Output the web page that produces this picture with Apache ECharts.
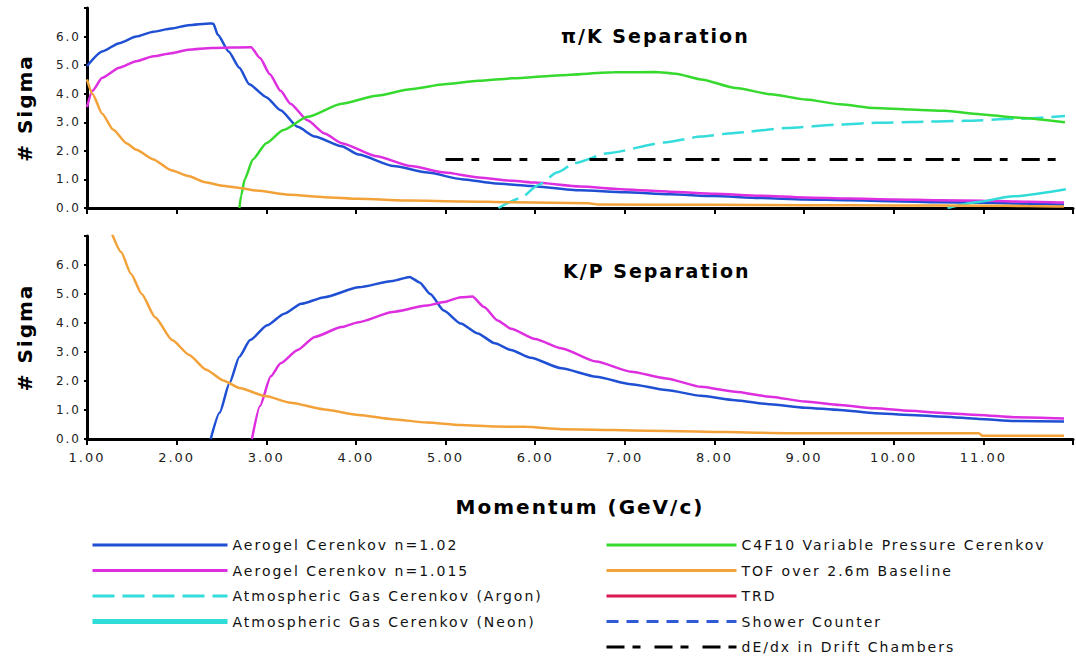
<!DOCTYPE html>
<html>
<head>
<meta charset="utf-8">
<script src="https://cdn.jsdelivr.net/npm/echarts@6/dist/echarts.min.js"></script>
<style>
  html, body { margin: 0; padding: 0; background: #fff; }
  #chart { width: 1076px; height: 663px; }
  /* the original lettering is set wide */
  #chart svg text { letter-spacing: 2px; }
</style>
</head>
<body>
<div id="chart"></div>
<script>
// momentum (GeV/c) vs separation (# sigma)
const momentumRange = [1, 12];
const sigmaRange = [0, 7];

// pi/K panel
const aerogel102PiK = [[1.0,4.97],[1.17,5.48],[1.36,5.77],[1.55,6.0],[1.74,6.17],[1.94,6.28],[2.13,6.4],[2.37,6.46],[2.41,6.45],[2.46,6.06],[2.58,5.48],[2.70,4.91],[2.81,4.33],[3.0,3.88],[3.16,3.42],[3.35,2.84],[3.54,2.5],[3.84,2.16],[4.03,1.87],[4.42,1.47],[4.8,1.24],[5.18,1.01],[5.56,0.86],[5.9,0.78],[6.5,0.62],[7.0,0.55],[7.5,0.48],[8.0,0.42],[8.5,0.35],[9.0,0.3],[9.5,0.27],[10.0,0.24],[10.5,0.2],[11.0,0.18],[11.5,0.15],[11.9,0.12]];
const aerogel1015PiK = [[1.0,3.53],[1.06,4.1],[1.17,4.56],[1.36,4.91],[1.55,5.14],[1.74,5.31],[1.94,5.42],[2.13,5.54],[2.39,5.6],[2.83,5.63],[2.93,5.25],[3.04,4.68],[3.16,4.1],[3.27,3.65],[3.46,3.07],[3.65,2.61],[3.84,2.27],[4.23,1.81],[4.61,1.47],[4.99,1.24],[5.37,1.07],[5.75,0.95],[6.0,0.89],[6.5,0.75],[7.0,0.65],[7.5,0.57],[8.0,0.5],[8.5,0.43],[9.0,0.37],[9.5,0.33],[10.0,0.3],[10.5,0.27],[11.0,0.25],[11.5,0.22],[11.9,0.19]];
const argonPiK = [[5.59,0.0],[5.84,0.35],[6.03,0.8],[6.25,1.25],[6.44,1.57],[6.81,1.92],[7.44,2.29],[7.85,2.5],[8.2,2.62],[8.8,2.8],[9.4,2.92],[9.8,2.98],[10.2,3.01],[10.8,3.05],[11.35,3.12],[11.91,3.22]];
const neonPiK = [[10.6,0.0],[10.96,0.22],[11.3,0.4],[11.92,0.66]];
const c4f10PiK = [[2.70,0.0],[2.72,0.44],[2.76,1.01],[2.85,1.7],[3.0,2.27],[3.19,2.73],[3.46,3.19],[3.84,3.65],[4.23,3.93],[4.61,4.16],[4.99,4.33],[5.37,4.45],[5.75,4.54],[6.29,4.65],[6.88,4.75],[7.34,4.76],[7.57,4.7],[7.85,4.5],[8.24,4.2],[8.63,3.98],[9.02,3.8],[9.4,3.63],[9.79,3.5],[10.18,3.45],[10.57,3.4],[10.96,3.28],[11.35,3.17],[11.91,3.0]];
const tofPiK = [[1.0,4.5],[1.06,4.0],[1.17,3.3],[1.29,2.75],[1.44,2.27],[1.55,2.04],[1.74,1.7],[1.94,1.32],[2.13,1.12],[2.32,0.9],[2.51,0.78],[2.7,0.7],[2.89,0.61],[3.27,0.46],[3.65,0.38],[4.03,0.32],[4.61,0.26],[5.18,0.23],[5.75,0.2],[6.6,0.17],[6.7,0.12],[8.0,0.11],[9.0,0.1],[10.0,0.09],[11.0,0.08],[11.5,0.07],[11.9,0.05]];
const trdPiK = [];
const showerPiK = [];
const dedxPiK = [[5.0,1.7],[11.9,1.7]];

// K/P panel
const aerogel102KP = [[2.38,0.0],[2.48,0.91],[2.59,1.93],[2.7,2.84],[2.82,3.41],[3.01,3.92],[3.2,4.32],[3.39,4.66],[3.65,4.89],[4.03,5.23],[4.41,5.45],[4.6,5.59],[4.71,5.4],[4.83,5.0],[4.98,4.43],[5.17,3.98],[5.36,3.64],[5.55,3.3],[5.73,3.07],[5.95,2.8],[6.29,2.44],[6.68,2.15],[7.07,1.89],[7.46,1.69],[7.85,1.49],[8.23,1.34],[8.62,1.2],[9.01,1.08],[9.4,1.0],[9.79,0.89],[10.18,0.83],[10.57,0.77],[10.95,0.69],[11.34,0.62],[11.9,0.6]];
const aerogel1015KP = [[2.84,0.0],[2.93,1.14],[3.05,2.16],[3.16,2.61],[3.35,3.07],[3.54,3.52],[3.84,3.86],[4.03,4.03],[4.41,4.38],[4.79,4.6],[4.98,4.72],[5.17,4.89],[5.3,4.91],[5.43,4.55],[5.58,4.09],[5.73,3.8],[6.0,3.45],[6.29,3.13],[6.68,2.67],[7.07,2.32],[7.46,2.09],[7.85,1.8],[8.23,1.63],[8.62,1.46],[9.01,1.29],[9.4,1.17],[9.79,1.06],[10.18,0.97],[10.57,0.89],[10.95,0.83],[11.34,0.75],[11.9,0.71]];
const tofKP = [[1.28,7.07],[1.38,6.45],[1.49,5.7],[1.61,5.0],[1.76,4.2],[1.95,3.41],[2.14,2.9],[2.33,2.39],[2.52,2.02],[2.7,1.76],[2.99,1.48],[3.27,1.25],[3.65,1.02],[4.03,0.83],[4.41,0.68],[4.79,0.57],[5.17,0.48],[5.55,0.43],[5.9,0.42],[6.29,0.34],[7.46,0.28],[8.82,0.2],[10.95,0.2],[10.99,0.11],[11.9,0.11]];

const legendLeft = ['Aerogel Cerenkov n=1.02', 'Aerogel Cerenkov n=1.015', 'Atmospheric Gas Cerenkov (Argon)', 'Atmospheric Gas Cerenkov (Neon)'];
const legendRight = ['C4F10 Variable Pressure Cerenkov', 'TOF over 2.6m Baseline', 'TRD', 'Shower Counter', 'dE/dx in Drift Chambers'];

const panelTitles = ['\u03c0/K Separation', 'K/P Separation'];

const FONT = 'DejaVu Sans';

const styles = {
    'Aerogel Cerenkov n=1.02': { color: '#1f4fd2', type: 'solid', width: 2.5 },
    'Aerogel Cerenkov n=1.015': { color: '#dd2ee0', type: 'solid', width: 2.5 },
    'Atmospheric Gas Cerenkov (Argon)': { color: '#35dcdc', type: [22, 8], width: 2.5 },
    'Atmospheric Gas Cerenkov (Neon)': { color: '#30dcd8', type: 'solid', width: 2.5 },
    'C4F10 Variable Pressure Cerenkov': { color: '#36d92e', type: 'solid', width: 2.5 },
    'TOF over 2.6m Baseline': { color: '#f3a23a', type: 'solid', width: 2.5 },
    'TRD': { color: '#dc1850', type: 'solid', width: 2.5 },
    'Shower Counter': { color: '#2e5ad8', type: [12, 8], width: 3 },
    'dE/dx in Drift Chambers': { color: '#000000', type: [18, 8, 8, 14], width: 3 }
};

function line(name, data, panel) {
    const s = styles[name];
    return {
        type: 'line',
        name: name,
        xAxisIndex: panel,
        yAxisIndex: panel,
        data: data,
        symbol: 'none',
        smooth: 0.2,
        smoothMonotone: 'x',
        lineStyle: { color: s.color, width: s.width, type: s.type },
        itemStyle: { color: s.color },
        z: name === 'dE/dx in Drift Chambers' ? 3 : 2
    };
}

function legendItems(names) {
    return names.map(n => ({
        name: n,
        itemStyle: { opacity: 0 },
        lineStyle: { width: n === 'Atmospheric Gas Cerenkov (Neon)' ? 5 : 3 }
    }));
}

function xAxisFor(panel) {
    return {
        type: 'value',
        gridIndex: panel,
        min: momentumRange[0],
        max: momentumRange[1],
        interval: 1,
        axisLine: { onZero: false, lineStyle: { color: '#000', width: 3 } },
        axisTick: { length: 6, lineStyle: { color: '#000', width: 2 } },
        axisLabel: {
            show: panel === 1,
            margin: 12,
            color: '#222',
            fontFamily: FONT,
            fontSize: 13,
            formatter: v => (v === momentumRange[1] ? '' : v.toFixed(2))
        },
        splitLine: { show: false },
        name: panel === 1 ? 'Momentum (GeV/c)' : '',
        nameLocation: 'middle',
        nameGap: 58,
        nameTextStyle: { fontFamily: FONT, fontWeight: 'bold', fontSize: 20, color: '#000' }
    };
}

function yAxisFor(panel) {
    return {
        type: 'value',
        gridIndex: panel,
        min: sigmaRange[0],
        max: sigmaRange[1],
        interval: 1,
        axisLine: { show: true, lineStyle: { color: '#000', width: 3 } },
        axisTick: { show: true, length: 3, lineStyle: { color: '#000', width: 2 } },
        axisLabel: {
            margin: 6,
            color: '#222',
            fontFamily: FONT,
            fontSize: 12,
            formatter: v => (v === sigmaRange[1] ? '' : v.toFixed(1))
        },
        splitLine: { show: false },
        name: '# Sigma',
        nameLocation: 'middle',
        nameRotate: 90,
        nameGap: 52,
        nameTextStyle: { fontFamily: FONT, fontWeight: 'bold', fontSize: 20, color: '#000' }
    };
}

const chart = echarts.init(document.getElementById('chart'), null, { renderer: 'svg' });

const option = {
    animation: false,
    backgroundColor: '#fff',
    title: [
        { text: panelTitles[0], left: 556, top: 21, textStyle: { fontFamily: FONT, fontWeight: 'bold', fontSize: 19, color: '#000' } },
        { text: panelTitles[1], left: 558, top: 256, textStyle: { fontFamily: FONT, fontWeight: 'bold', fontSize: 19, color: '#000' } }
    ],
    grid: [
        { left: 87, right: 3, top: 8, height: 200 },
        { left: 87, right: 3, top: 236, height: 203 }
    ],
    xAxis: [xAxisFor(0), xAxisFor(1)],
    yAxis: [yAxisFor(0), yAxisFor(1)],
    legend: [
        {
            orient: 'vertical',
            left: 90,
            top: 538,
            padding: 0,
            itemWidth: 135,
            itemHeight: 14,
            itemGap: 11.5,
            selectedMode: false,
            data: legendItems(legendLeft),
            textStyle: { fontFamily: FONT, fontSize: 14, color: '#111', lineHeight: 14 }
        },
        {
            orient: 'vertical',
            left: 605,
            top: 538,
            padding: 0,
            itemWidth: 130,
            itemHeight: 14,
            itemGap: 11.5,
            selectedMode: false,
            data: legendItems(legendRight),
            textStyle: { fontFamily: FONT, fontSize: 14, color: '#111', lineHeight: 14 }
        }
    ],
    series: [
        line('Aerogel Cerenkov n=1.02', aerogel102PiK, 0),
        line('Aerogel Cerenkov n=1.015', aerogel1015PiK, 0),
        line('Atmospheric Gas Cerenkov (Argon)', argonPiK, 0),
        line('Atmospheric Gas Cerenkov (Neon)', neonPiK, 0),
        line('C4F10 Variable Pressure Cerenkov', c4f10PiK, 0),
        line('TOF over 2.6m Baseline', tofPiK, 0),
        line('TRD', trdPiK, 0),
        line('Shower Counter', showerPiK, 0),
        line('dE/dx in Drift Chambers', dedxPiK, 0),
        line('Aerogel Cerenkov n=1.02', aerogel102KP, 1),
        line('Aerogel Cerenkov n=1.015', aerogel1015KP, 1),
        line('TOF over 2.6m Baseline', tofKP, 1)
    ]
};

chart.setOption(option);
window.addEventListener('resize', () => chart.resize());
</script>
</body>
</html>
